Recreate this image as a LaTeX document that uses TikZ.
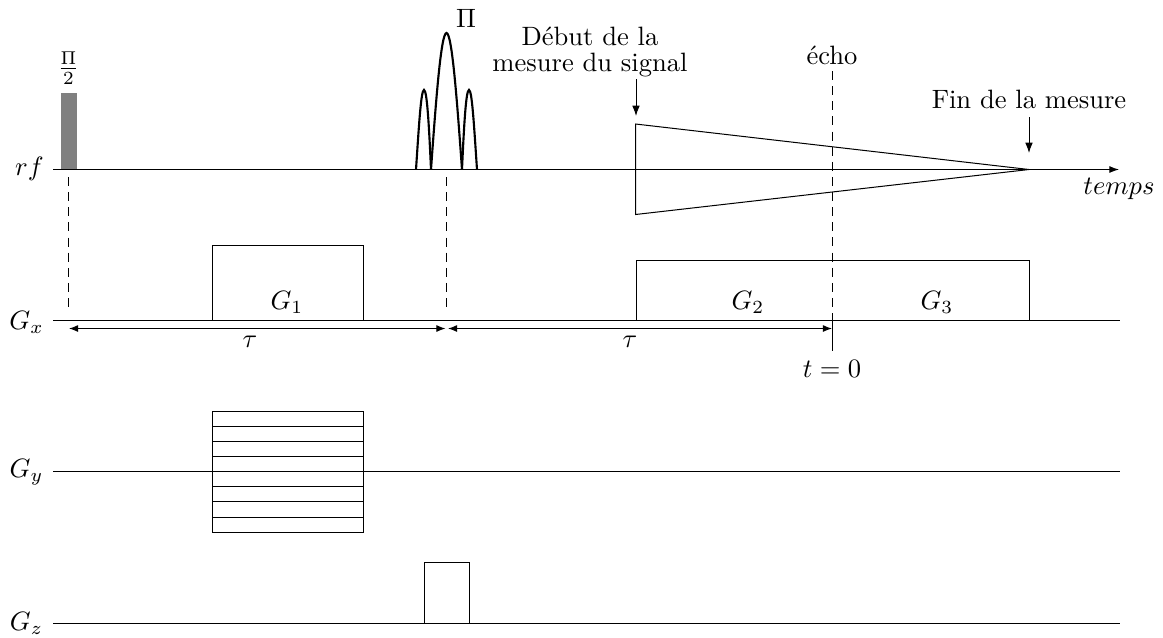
\documentclass[tikz,border=0pt]{standalone}
\usetikzlibrary{arrows.meta}
\tikzset{
  x=0.3767pt,y=-0.3767pt,
  axisline/.style={line width=0.38pt,black},
  boxline/.style={line width=0.38pt,black},
  guide/.style={line width=0.38pt,black,dash pattern=on 3.4pt off 2.3pt},
  lobe/.style={line width=0.8pt,black},
  headed/.style={line width=0.38pt,black,-{Latex[length=3.9pt,width=2.9pt]}},
  twohead/.style={line width=0.38pt,black,{Latex[length=3.4pt,width=2.6pt]}-{Latex[length=3.4pt,width=2.6pt]}},
  lab/.style={inner sep=0pt,outer sep=0pt,black,align=center},
}
\begin{document}
\begin{tikzpicture}
\useasboundingbox (0,0) rectangle (1163,637);
% reference points
\coordinate (rfL) at (53,169.5);
\coordinate (rfR) at (1119,169.5);
\coordinate (gxL) at (53,320.5);
\coordinate (gxR) at (1120,320.5);
\coordinate (gyL) at (53,471.5);
\coordinate (gyR) at (1120,471.5);
\coordinate (gzL) at (53,623.5);
\coordinate (gzR) at (1120,623.5);
% pi/2 pulse
\fill[gray] (60.5,93) rectangle (77,169.5);
% axes
\draw[axisline,-{Latex[length=3.6pt,width=2.6pt]}] (rfL) -- (rfR);
\draw[axisline] (gxL) -- (gxR);
\draw[axisline] (gyL) -- (gyR);
\draw[axisline] (gzL) -- (gzR);
% pi pulse
\draw[lobe] (416,169.5) .. controls (419,125) and (421,90) .. (424,90) .. controls (427,90) and (429,125) .. (431,169.5);
\draw[lobe] (431,169.5) .. controls (436,100) and (441,33) .. (446.5,33) .. controls (452,33) and (457,100) .. (462,169.5);
\draw[lobe] (462,169.5) .. controls (464,125) and (466,90) .. (469,90) .. controls (472,90) and (474,125) .. (477,169.5);
% guides
\coordinate (g1a) at (68.5,177); \coordinate (g1b) at (68.5,313);
\coordinate (g2a) at (446.5,177); \coordinate (g2b) at (446.5,313);
\coordinate (g3a) at (832.5,71); \coordinate (g3b) at (832.5,320.5); \coordinate (g3c) at (832.5,351);
\draw[guide] (g1a) -- (g1b);
\draw[guide] (g2a) -- (g2b);
\draw[guide] (g3a) -- (g3b);
\draw[boxline] (g3b) -- (g3c);
% signal envelope
\coordinate (sigTop) at (635.5,124);
\coordinate (sigBot) at (635.5,214.5);
\coordinate (sigEnd) at (1029,169.5);
\draw[boxline] (sigEnd) -- (sigTop) -- (sigBot) -- cycle;
% gradient boxes
\draw[boxline] (212.5,320.5) rectangle (363.5,245.5);
\draw[boxline] (636.5,320.5) rectangle (1029.5,260.5);
\draw[boxline] (424.5,623.5) rectangle (469.5,562.5);
\draw[boxline] (212.5,411.5) rectangle (363.5,532.5);
\foreach \yy in {426.5,441.5,456.5,486.5,501.5,517.5}
  \draw[boxline] (212.5,\yy) -- (363.5,\yy);
\draw[boxline,line width=0.6pt] (212.5,471.5) -- (363.5,471.5);
% tau arrows
\coordinate (t1) at (69,328.5); \coordinate (t2) at (445.5,328.5);
\coordinate (t3) at (448,328.5); \coordinate (t4) at (832,328.5);
\draw[twohead] (t1) -- (t2);
\draw[twohead] (t3) -- (t4);
% pointer arrows
\coordinate (p1a) at (636,79); \coordinate (p1b) at (636,116);
\coordinate (p2a) at (1029,117); \coordinate (p2b) at (1029,153);
\draw[headed] (p1a) -- (p1b);
\draw[headed] (p2a) -- (p2b);
% labels
\node[lab] (lrf) at (29.5,169) {$rf$};
\node[lab] (lgx) at (26.5,322) {$G_x$};
\node[lab] (lgy) at (26.5,472) {$G_y$};
\node[lab] (lgz) at (26.5,623) {$G_z$};
\node[lab] (lhalf) at (68.5,68) {$\frac{\Pi}{2}$};
\node[lab] (lpi) at (466,18) {$\Pi$};
\node[lab] (ldeb) at (590,52) {Début de la\\[-2pt]mesure du signal};
\node[lab] (lech) at (832,55) {écho};
\node[lab] (lfin) at (1029,99) {Fin de la mesure};
\node[lab] (ltemps) at (1119,189) {$temps$};
\node[lab] (lg1) at (287,302) {$G_1$};
\node[lab] (lg2) at (748,302) {$G_2$};
\node[lab] (lg3) at (937,302) {$G_3$};
\node[lab] (ltau1) at (250,342) {$\tau$};
\node[lab] (ltau2) at (630,342) {$\tau$};
\node[lab] (lt0) at (832,369) {$t=0$};
\end{tikzpicture}
\end{document}
